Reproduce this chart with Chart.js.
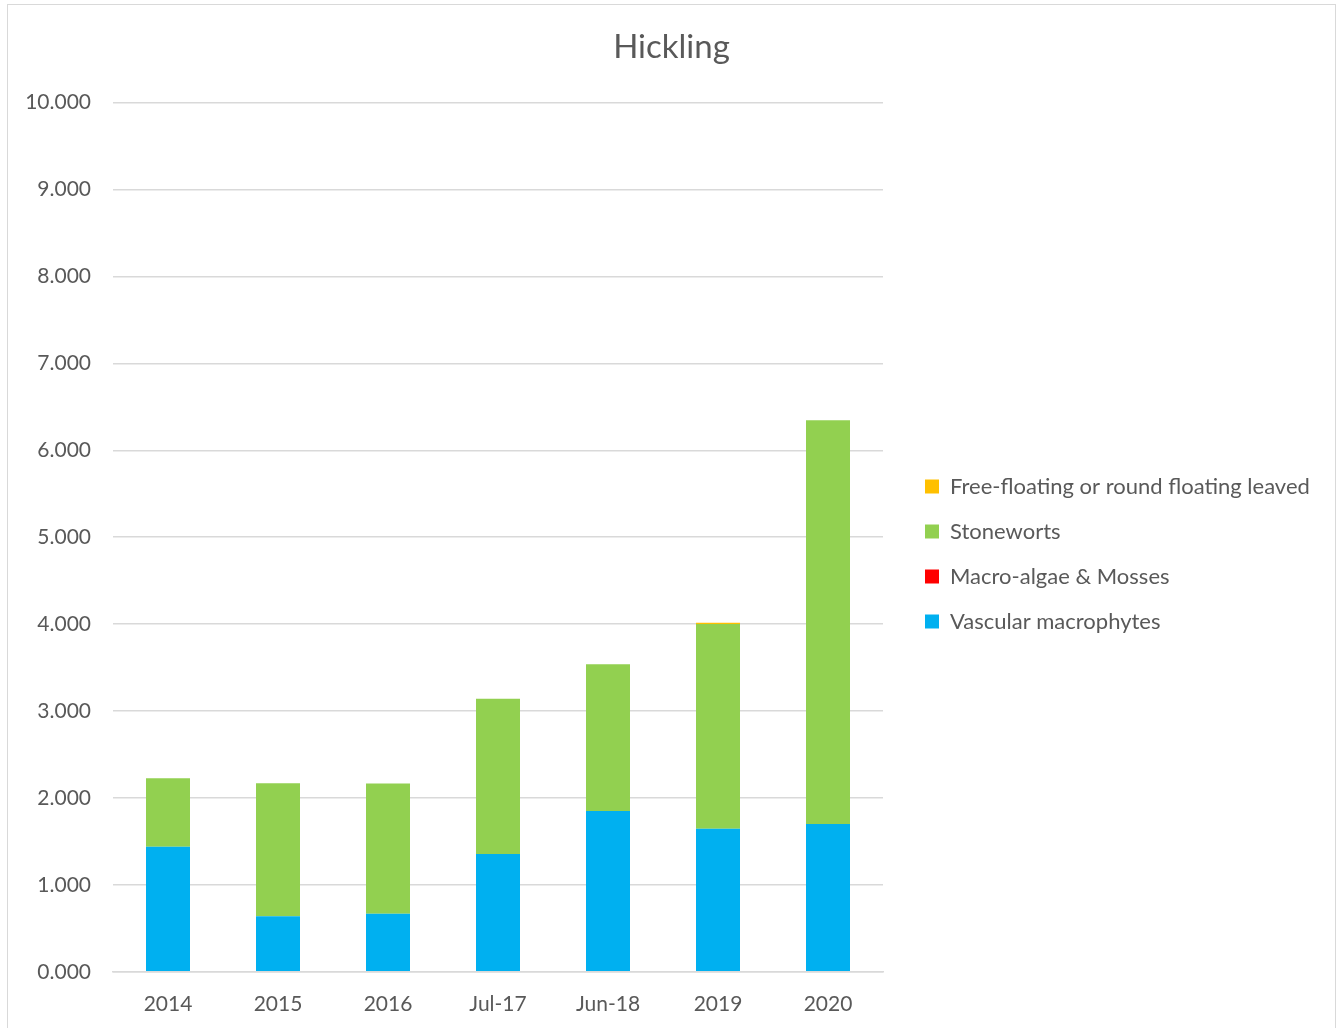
<!DOCTYPE html>
<html>
<head>
<meta charset="utf-8">
<title>Hickling</title>
<script src="https://cdn.jsdelivr.net/npm/chart.js@4"></script>
<style>
  html, body { margin: 0; padding: 0; background: #fff; }
  #wrap {
    position: absolute; left: 7px; top: 4px;
    width: 1327px; height: 1040px;
    border: 1px solid #d9d9d9;
  }
  canvas { display: block; }
</style>
</head>
<body>
<div id="wrap"><canvas id="chart" width="1327" height="1040"></canvas></div>
<script>
// survey years
const years = ['2014', '2015', '2016', 'Jul-17', 'Jun-18', '2019', '2020'];

// stacked cover per plant group
const vascular = [1.440, 0.640, 0.667, 1.356, 1.851, 1.647, 1.701];
const macroAlgae = [0, 0, 0, 0, 0, 0, 0];
const stoneworts = [0.786, 1.529, 1.498, 1.786, 1.686, 2.353, 4.644];
const freeFloating = [0, 0, 0, 0, 0, 0.015, 0];

const textColor = '#595959';
const gridColor = '#d9d9d9';
const font = 'Lato, "Open Sans", sans-serif';

// keep the legend a fixed width and nudge it down a bit
const legendPlacement = {
  id: 'legendPlacement',
  afterInit(chart) {
    const fit = chart.legend.fit;
    chart.legend.fit = function () {
      fit.call(this);
      this.width = 433;
    };
  },
  afterLayout(chart) {
    chart.legend.top += 33;
    chart.legend.bottom += 33;
  }
};

new Chart(document.getElementById('chart').getContext('2d'), {
  type: 'bar',
  data: {
    labels: years,
    datasets: [
      { label: 'Vascular macrophytes', data: vascular, backgroundColor: '#00B0F0' },
      { label: 'Macro-algae & Mosses', data: macroAlgae, backgroundColor: '#FF0000' },
      { label: 'Stoneworts', data: stoneworts, backgroundColor: '#92D050' },
      { label: 'Free-floating or round floating leaved', data: freeFloating, backgroundColor: '#FFC000' }
    ]
  },
  options: {
    responsive: false,
    animation: false,
    categoryPercentage: 0.8,
    barPercentage: 0.5,
    layout: { padding: { left: 0, right: 0, top: 0, bottom: 8 } },
    scales: {
      x: {
        stacked: true,
        grid: { display: false, drawTicks: false },
        border: { color: gridColor, width: 1.5 },
        ticks: { color: textColor, font: { family: font, size: 21 }, padding: 20 }
      },
      y: {
        stacked: true,
        min: 0,
        max: 10,
        afterFit: axis => { axis.width = 105; },
        grid: { color: gridColor, lineWidth: 1.5, drawTicks: false },
        border: { display: false },
        ticks: {
          stepSize: 1,
          padding: 22,
          color: textColor,
          font: { family: font, size: 21 },
          callback: v => v.toFixed(3)
        }
      },
      gap: {
        position: 'right',
        display: true,
        afterFit: axis => { axis.width = 19; },
        grid: { display: false, drawTicks: false },
        border: { display: false },
        ticks: { display: false }
      }
    },
    plugins: {
      title: {
        display: true,
        text: 'Hickling',
        color: textColor,
        font: { family: font, size: 33, weight: 'normal' },
        padding: { top: 23, bottom: 35 }
      },
      legend: {
        position: 'right',
        reverse: true,
        labels: {
          color: textColor,
          font: { family: font, size: 22 },
          boxWidth: 14,
          boxHeight: 14,
          padding: 23
        }
      },
      tooltip: { enabled: false }
    }
  },
  plugins: [legendPlacement]
});
</script>
</body>
</html>
